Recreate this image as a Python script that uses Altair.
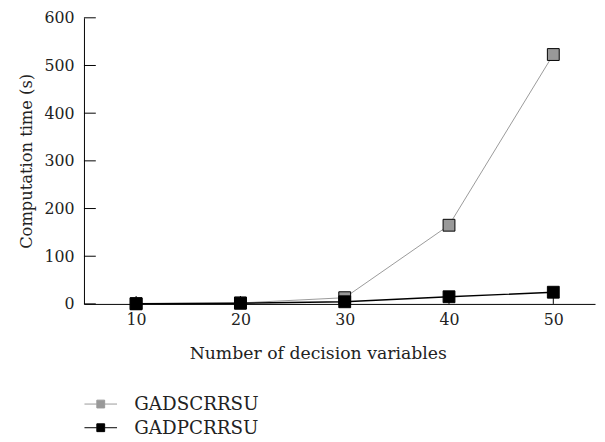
import altair as alt
import pandas as pd

n_vars = [10, 20, 30, 40, 50]
series_names = ["GADSCRRSU", "GADPCRRSU"]
gadscrrsu = [0.5, 2, 13, 165, 523]
gadpcrrsu = [0.3, 1.5, 4.5, 15, 24.5]
x_ticks = [10, 20, 30, 40, 50]
y_ticks = [0, 100, 200, 300, 400, 500, 600]
colors = ["#999999", "#000000"]

rows = []
for s, vals in zip(series_names, [gadscrrsu, gadpcrrsu]):
    for n, v in zip(n_vars, vals):
        rows.append({"n": n, "series": s, "time": v})
df = pd.DataFrame(rows)

W, H = 518, 290
FONT = "DejaVu Serif"
TXT = "#222222"

xscale = alt.Scale(domain=[5, 54], nice=False, zero=False)
yscale = alt.Scale(domain=[0, 600], nice=False)

legend = alt.Legend(
    title=None, orient="none", legendX=5.5, legendY=380, direction="vertical",
    symbolType="M-1.5,0H-0.36M0.36,0H1.5M-0.36,-0.36H0.36V0.36H-0.36Z",
    symbolSize=484, symbolStrokeWidth=1, labelFont=FONT, labelFontSize=18.5,
    labelColor=TXT, labelOffset=22.5, rowPadding=3,
)

x_enc = alt.X("n:Q", scale=xscale, axis=alt.Axis(
    values=x_ticks, ticks=False, grid=False, domainColor="black", labelPadding=8,
    title="Number of decision variables", titleX=237, titleY=50,
    titleAlign="center", titleBaseline="middle"))
y_enc = alt.Y("time:Q", scale=yscale, axis=alt.Axis(
    values=y_ticks, ticks=False, grid=False, domainColor="black", labelPadding=10,
    title="Computation time (s)", titlePadding=10, titleFontSize=16.5))

stroke_enc = alt.Stroke("series:N", scale=alt.Scale(domain=series_names, range=colors), legend=legend)
fill_enc = alt.Fill("series:N", scale=alt.Scale(domain=series_names, range=colors), legend=legend)

layers = []
for s, sw in zip(series_names, [1, 1.4]):
    sub = alt.Chart(df).transform_filter(alt.datum.series == s)
    layers.append(sub.mark_line(strokeWidth=sw).encode(x=x_enc, y=y_enc, stroke=stroke_enc))
    layers.append(sub.mark_point(shape="square", filled=True, size=144, stroke="black",
                                 strokeWidth=1, opacity=1).encode(x=x_enc, y=y_enc, fill=fill_enc))

ytick_df = pd.DataFrame({"v": y_ticks})
xtick_df = pd.DataFrame({"v": x_ticks})
yticks = alt.Chart(ytick_df).mark_rule(color="black", strokeWidth=1).encode(
    y=alt.Y("v:Q", scale=yscale), x=alt.value(0), x2=alt.value(12))
xticks = alt.Chart(xtick_df).mark_rule(color="black", strokeWidth=1).encode(
    x=alt.X("v:Q", scale=xscale), y=alt.value(H), y2=alt.value(H - 8))

chart = alt.layer(yticks, xticks, *layers).properties(
    width=W, height=H,
    autosize=alt.AutoSizeParams(type="none"),
    padding={"left": 77, "top": 7, "right": 2, "bottom": 135},
).configure_view(stroke=None).configure_axis(
    labelFont=FONT, labelFontSize=16, labelColor=TXT, titleFont=FONT,
    titleFontSize=17.5, titleFontWeight="normal", titleColor=TXT, domainWidth=1
)

chart.save("out.html", embed_options={"renderer": "svg", "actions": False})
